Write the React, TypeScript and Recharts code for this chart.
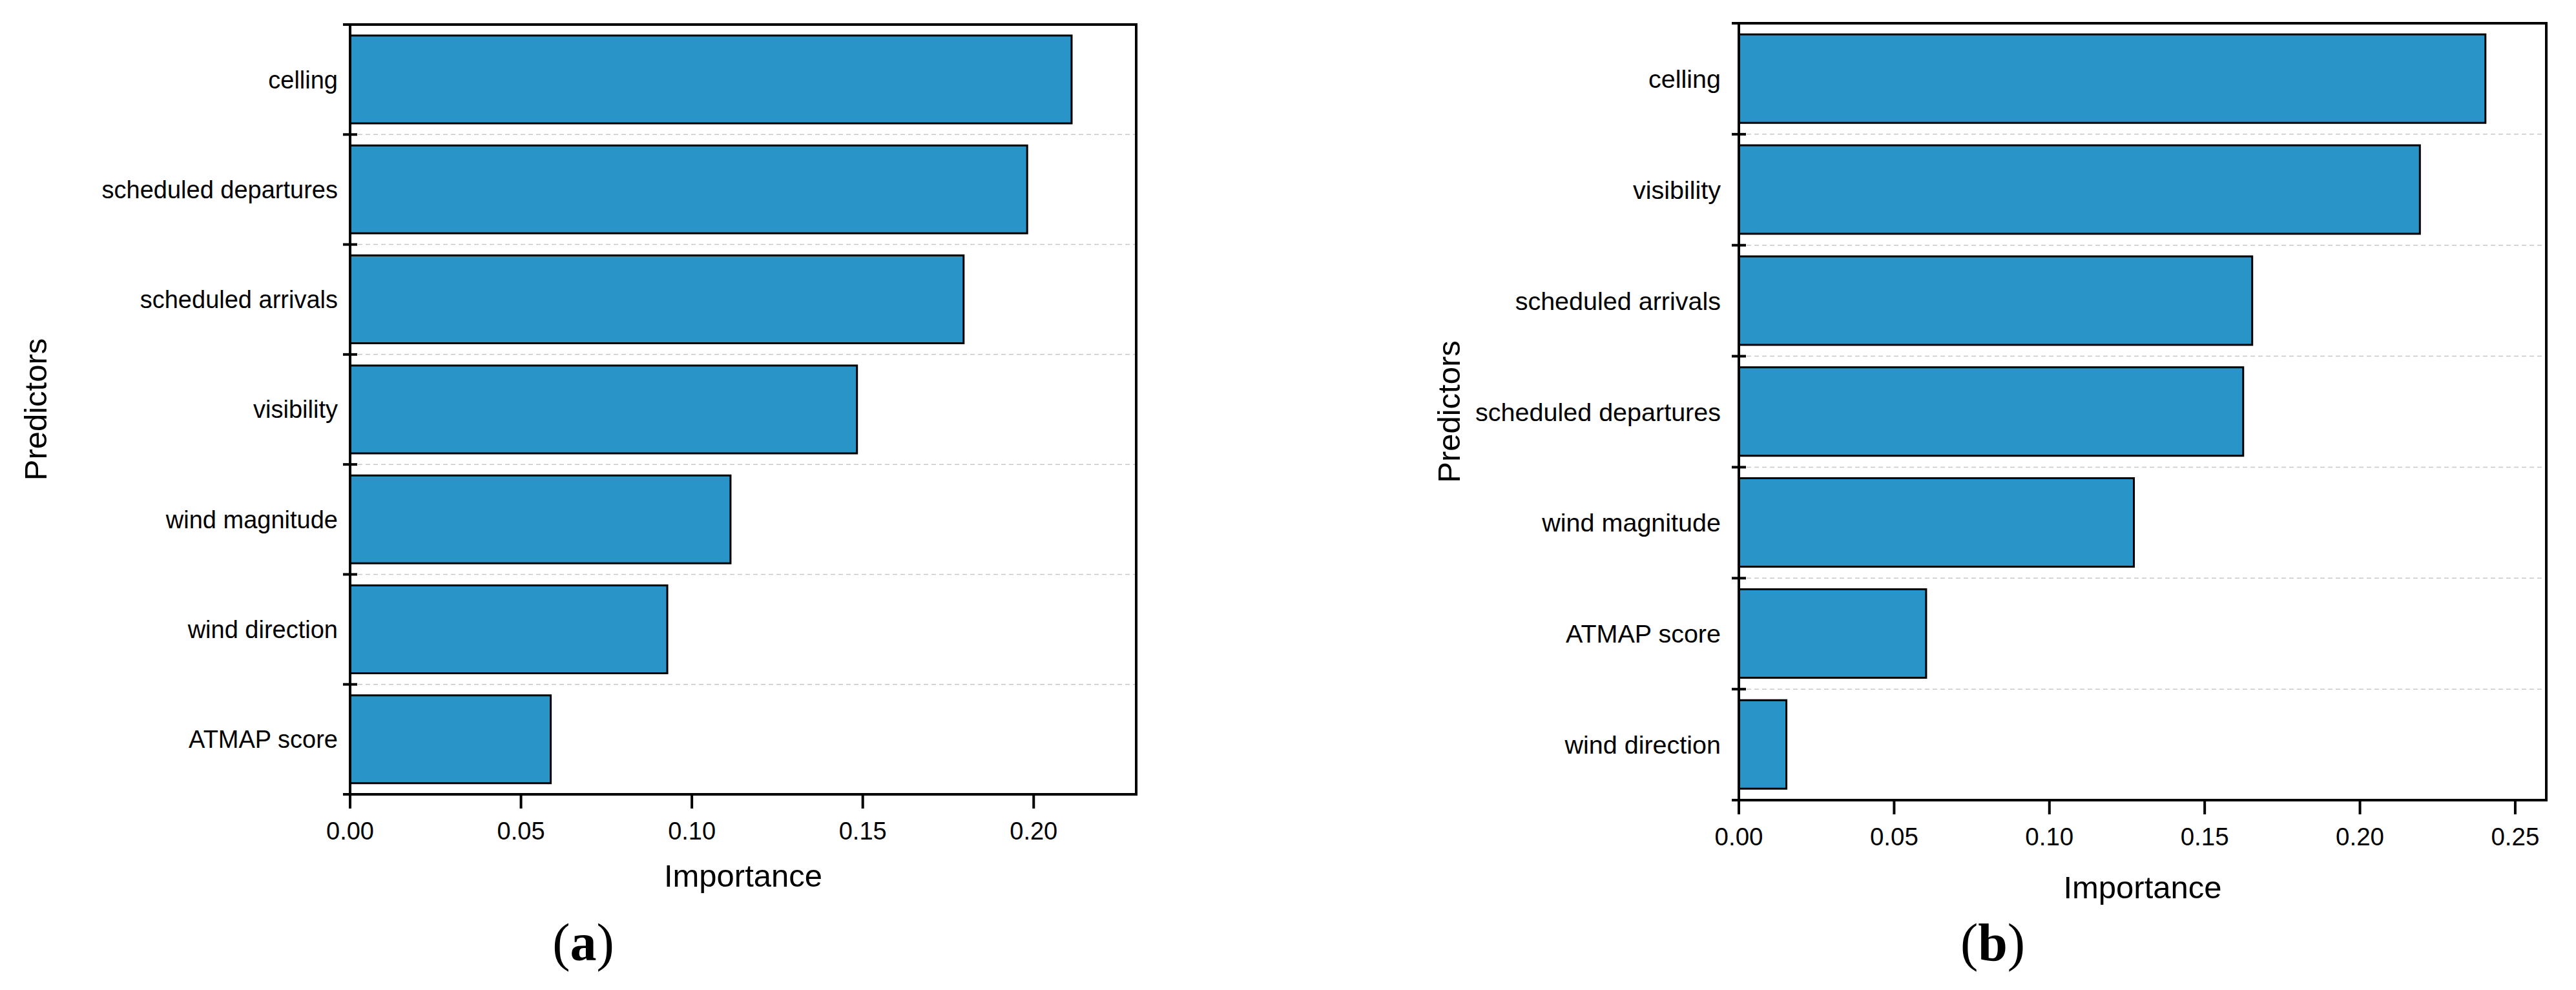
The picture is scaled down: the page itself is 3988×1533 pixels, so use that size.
import React from "react";
import { BarChart, Bar, XAxis, YAxis, CartesianGrid, Label } from "recharts";

// panel (a)
const leftNames = [
  "celling",
  "scheduled departures",
  "scheduled arrivals",
  "visibility",
  "wind magnitude",
  "wind direction",
  "ATMAP score",
];
const leftValues = [0.2111, 0.1981, 0.1795, 0.1483, 0.1113, 0.0928, 0.0587];
const leftTicks = [0, 0.05, 0.1, 0.15, 0.2];

// panel (b)
const rightNames = [
  "celling",
  "visibility",
  "scheduled arrivals",
  "scheduled departures",
  "wind magnitude",
  "ATMAP score",
  "wind direction",
];
const rightValues = [0.2404, 0.2193, 0.1653, 0.1624, 0.1272, 0.0603, 0.0153];
const rightTicks = [0, 0.05, 0.1, 0.15, 0.2, 0.25];

const BAR_COLOR = "#2994c8";
const FONT = "Arial, 'Liberation Sans', sans-serif";
const SERIF = "'Liberation Serif', 'Times New Roman', serif";

function CategoryTick(props: any) {
  const { x, y, payload, index, visibleTicksCount, height, gap, fontSize } = props;
  const count = visibleTicksCount || 7;
  const half = payload && payload.offset ? payload.offset : height ? height / count / 2 : 85;
  const axisX = x + gap;
  return (
    <g>
      <text x={x} y={y} dy="0.355em" textAnchor="end" fontSize={fontSize} fontFamily={FONT} fill="#000">
        {payload.value}
      </text>
      <line x1={axisX - 11} x2={axisX + 11} y1={y - half} y2={y - half} stroke="#000" strokeWidth={4} />
      {index === count - 1 && (
        <line x1={axisX - 11} x2={axisX + 11} y1={y + half} y2={y + half} stroke="#000" strokeWidth={4} />
      )}
    </g>
  );
}

const bandLines = (n: number) => ({ offset }: any) =>
  Array.from({ length: n - 1 }, (_, i) => offset.top + ((i + 1) * offset.height) / n);

type PanelProps = {
  names: string[];
  values: number[];
  ticks: number[];
  maxX: number;
  margin: { top: number; right: number; bottom: number; left: number };
  yWidth: number;
  labelGap: number;
  catFont: number;
  tickFont: number;
  yTitleOffset: number;
  xTitleOffset: number;
};

function Panel(p: PanelProps) {
  const data = p.names.map((name, i) => ({ name, value: p.values[i] }));
  return (
    <BarChart width={1994} height={1533} data={data} layout="vertical" margin={p.margin} barCategoryGap="10%">
      <CartesianGrid
        vertical={false}
        horizontalCoordinatesGenerator={bandLines(p.names.length)}
        stroke="#c8c8c8"
        strokeWidth={1.5}
        strokeDasharray="7 5"
      />
      <CartesianGrid
        horizontalCoordinatesGenerator={({ offset }: any) => [offset.top]}
        verticalCoordinatesGenerator={({ offset }: any) => [offset.left + offset.width]}
        stroke="#000"
        strokeWidth={4}
        strokeLinecap="square"
      />
      <XAxis
        type="number"
        dataKey="value"
        domain={[0, p.maxX]}
        ticks={p.ticks}
        interval={0}
        tickFormatter={(v: number) => v.toFixed(2)}
        height={150}
        tickSize={22}
        tickMargin={21}
        axisLine={{ stroke: "#000", strokeWidth: 4 }}
        tickLine={{ stroke: "#000", strokeWidth: 4 }}
        tick={{ fill: "#000", fontSize: p.tickFont, fontFamily: FONT }}
      >
        <Label
          value="Importance"
          position="insideTop"
          offset={p.xTitleOffset}
          fill="#000"
          fontSize={49}
          style={{ fontSize: 49, fontFamily: FONT, fill: "#000" }}
        />
      </XAxis>
      <YAxis
        type="category"
        dataKey="name"
        width={p.yWidth}
        interval={0}
        tickSize={0}
        tickMargin={p.labelGap}
        tickLine={false}
        axisLine={{ stroke: "#000", strokeWidth: 4 }}
        tick={(t: any) => <CategoryTick {...t} gap={p.labelGap} fontSize={p.catFont} />}
      >
        <Label
          value="Predictors"
          angle={-90}
          position="insideLeft"
          offset={p.yTitleOffset}
          fill="#000"
          fontSize={49}
          style={{ textAnchor: "middle", fontSize: 49, fontFamily: FONT, fill: "#000" }}
        />
      </YAxis>
      <Bar dataKey="value" fill={BAR_COLOR} stroke="#000" strokeWidth={3} isAnimationActive={false} />
    </BarChart>
  );
}

export default function App() {
  return (
    <div style={{ position: "absolute", left: 0, top: 0, width: 3988, height: 1533, background: "#fff" }}>
      <div style={{ position: "absolute", left: 0, top: 0 }}>
        <Panel
          names={leftNames}
          values={leftValues}
          ticks={leftTicks}
          maxX={0.23}
          margin={{ top: 38, right: 235, bottom: 153, left: 10 }}
          yWidth={532}
          labelGap={19}
          catFont={38}
          tickFont={38}
          yTitleOffset={45}
          xTitleOffset={108}
        />
      </div>
      <div style={{ position: "absolute", left: 1994, top: 0 }}>
        <Panel
          names={rightNames}
          values={rightValues}
          ticks={rightTicks}
          maxX={0.26}
          margin={{ top: 36, right: 46, bottom: 144, left: 10 }}
          yWidth={688}
          labelGap={28}
          catFont={39.5}
          tickFont={38.5}
          yTitleOffset={239}
          xTitleOffset={117}
        />
      </div>
      <svg width={3988} height={1533} style={{ position: "absolute", left: 0, top: 0, pointerEvents: "none" }}>
        <text x={903} y={1487} textAnchor="middle" fontFamily={SERIF} fontSize={82} fill="#000">
          (<tspan fontWeight="bold">a</tspan>)
        </text>
        <text x={3085} y={1487} textAnchor="middle" fontFamily={SERIF} fontSize={82} fill="#000">
          (<tspan fontWeight="bold">b</tspan>)
        </text>
      </svg>
    </div>
  );
}
